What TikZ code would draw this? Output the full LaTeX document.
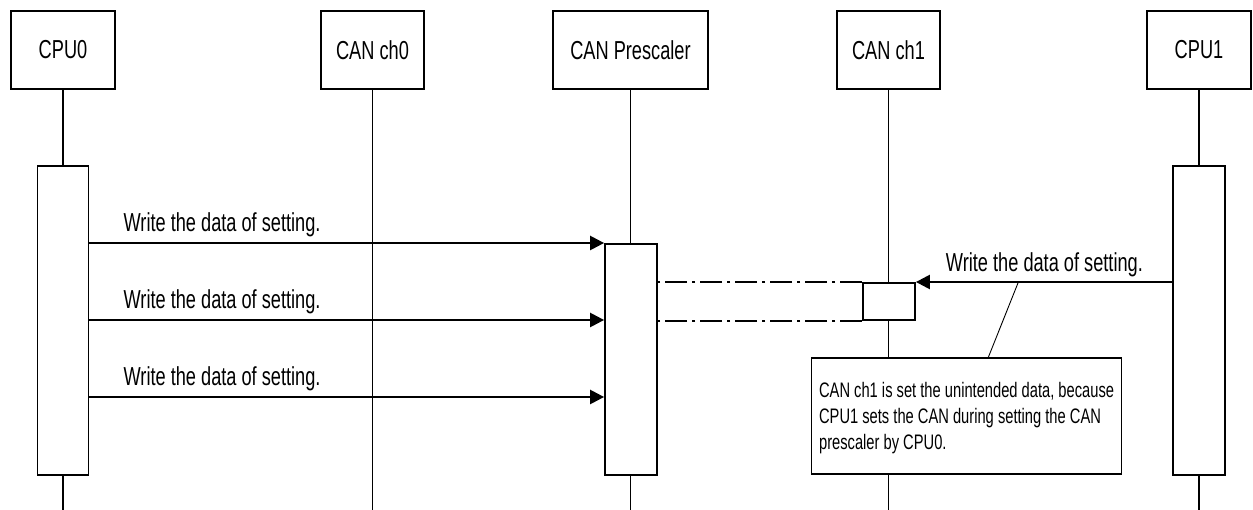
\documentclass[tikz,border=0pt]{standalone}
\usepackage{fontspec}
\setmainfont{Liberation Sans}[FakeStretch=0.70]
\usetikzlibrary{arrows.meta,calc}
\begin{document}
\begin{tikzpicture}[x=1pt,y=-1pt,
  head/.style={draw,line width=1.8pt,fill=white,minimum height=78pt,inner sep=0pt,
    font=\fontsize{26}{30}\selectfont},
  life/.style={line width=1.6pt},
  act/.style={draw,line width=1.8pt,fill=white,inner sep=0pt,anchor=north},
  msg/.style={line width=2.4pt,-{Triangle[length=14pt,width=14pt]}},
  lbl/.style={font=\fontsize{26}{30}\selectfont,inner sep=0pt},
  ghost/.style={line width=2.4pt,dash pattern=on 22pt off 5pt on 3pt off 5pt},
  note/.style={draw,line width=1.2pt,fill=white,minimum width=310pt,minimum height=116pt,
    inner sep=0pt},
  notetext/.style={inner sep=0pt,align=left,font=\fontsize{21}{26}\selectfont}
]
\useasboundingbox (0,0) rectangle (1253,510);
\coordinate (bot) at (0,510);

% participants
\node[head,minimum width=104pt] (cpu0) at (63,50)    {CPU0};
\node[head,minimum width=103pt] (ch0)  at (372.5,50) {CAN ch0};
\node[head,minimum width=155pt] (pre)  at (630.5,50) {CAN Prescaler};
\node[head,minimum width=103pt] (ch1)  at (888.5,50) {CAN ch1};
\node[head,minimum width=104pt] (cpu1) at (1199,50)  {CPU1};

% lifelines
\foreach \p in {cpu0,ch0,pre,ch1,cpu1}
  \draw[life] (\p.south) -- (\p.south |- bot);

% activations
\node[act,minimum width=51pt,minimum height=309pt] (a0) at (63,165)   {};
\node[act,minimum width=52pt,minimum height=231pt] (pa) at (631,243)  {};
\node[act,minimum width=52pt,minimum height=37pt]  (c1) at (889,282)  {};
\node[act,minimum width=52pt,minimum height=309pt] (a1) at (1199,165) {};

% messages from CPU0 to the prescaler
\coordinate (m2) at (0,320);
\coordinate (m3) at (0,397);
\draw[msg] (a0.east |- pa.north) -- (pa.north west)
  node[lbl,pos=0,anchor=base west,xshift=33pt,yshift=11pt] {Write the data of setting.};
\draw[msg] (a0.east |- m2) -- (pa.west |- m2)
  node[lbl,pos=0,anchor=base west,xshift=33pt,yshift=11pt] {Write the data of setting.};
\draw[msg] (a0.east |- m3) -- (pa.west |- m3)
  node[lbl,pos=0,anchor=base west,xshift=33pt,yshift=11pt] {Write the data of setting.};

% prescaler affecting CAN ch1
\draw[ghost] (c1.north west) -- (pa.east |- c1.north west);
\draw[ghost] (c1.south west) -- (pa.east |- c1.south west);

% message from CPU1 to CAN ch1
\draw[msg] (a1.west |- c1.north east) -- (c1.north east)
  node[lbl,pos=0,anchor=base east,xshift=-28pt,yshift=10pt] {Write the data of setting.}
  coordinate[pos=0.6] (hit);

% comment box (base anchor of the text sits on its last line)
\node[note] (nb) at (966.5,416) {};
\node[notetext,anchor=base west] (nt) at ($(nb.north west)+(8,92)$)
  {CAN ch1 is set the unintended data, because\\
   CPU1 sets the CAN during setting the CAN\\prescaler by CPU0.};
\draw[line width=0.9pt] ($(nb.north west)!0.57!(nb.north east)$) -- (hit);
\end{tikzpicture}
\end{document}
